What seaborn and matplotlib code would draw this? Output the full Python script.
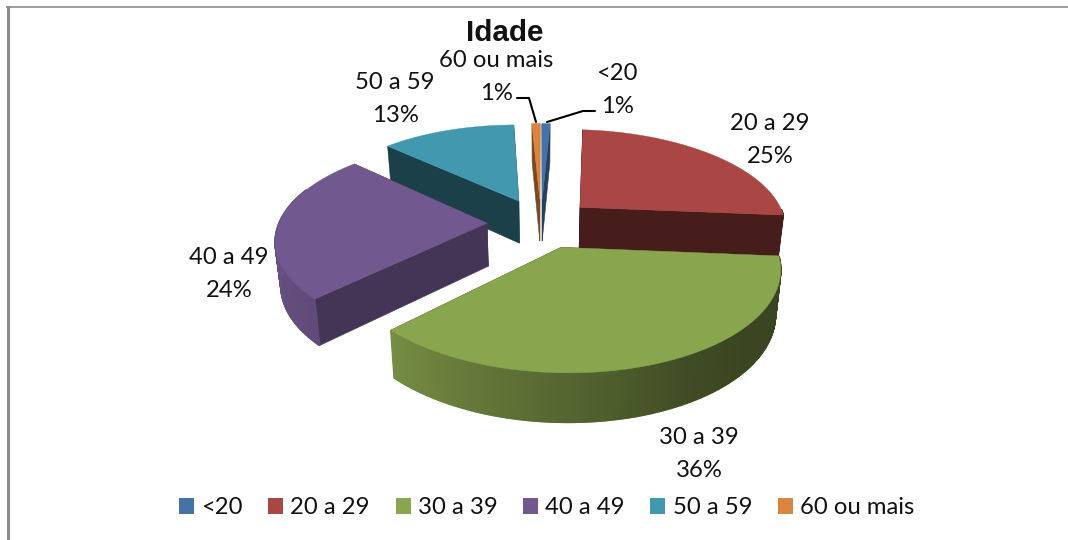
import numpy as np
import matplotlib
matplotlib.use("Agg")
import matplotlib.pyplot as plt
from matplotlib.colors import to_rgb
from matplotlib.patches import Patch
import seaborn as sns

# ── Data ────────────────────────────────────────────────────────
FAIXAS  = ["<20", "20 a 29", "30 a 39", "40 a 49", "50 a 59", "60 ou mais"]
VALORES = [0.75, 25.25, 36.4, 24.3, 12.55, 0.75]
CORES   = ["#4572A7", "#AA4643", "#89A54E", "#71588F", "#4198AF", "#DB843D"]

# ── Layout (pixels of the 1068x540 image) ───────────────────────
LABEL_POS = [(617, 90), (770, 140), (699, 454), (229, 274), (395, 99), (496, 77)]
CX, CY = 541, 223      # centre of the pie
RX, RY = 207, 95.5     # radii of the disc
PERSP  = 0.1665        # back shrinks, front grows
SHEAR  = 2.0           # plane is slightly rolled
ALTURA = 43            # wall height
TAPER  = 0.022         # walls narrow towards the bottom
EXPLODE = 0.26
DRAW_ORDER = [4, 5, 0, 1, 3, 2]   # back to front

# how dark a radial cut wall is, per slice
WALL_DARK = [0.55, 0.42, 0.42, 0.60, 0.42, 0.55]
# brightness of the outer wall along the angle (deg, clockwise from top)
ARC_ANG   = [90, 130, 150, 180, 223, 270, 320]
ARC_LIGHT = [0.42, 0.42, 0.46, 0.62, 0.85, 0.92, 0.92]


def project(X, Y, z=0.0):
    s = 1.0 / (1.0 + PERSP * Y)
    k = 1.0 - TAPER * z / ALTURA
    return CX + RX * X * s * k, CY - RY * Y * s + z * s ** 0.6 + SHEAR * X


def shade(color, f):
    return tuple(c * f for c in to_rgb(color))


def draw_slice(ax, start, end, color, dark):
    mid = np.radians((start + end) / 2)
    ox, oy = EXPLODE * np.sin(mid), EXPLODE * np.cos(mid)

    ang = np.radians(np.linspace(start, end, max(int(end - start) * 2, 4)))
    X = ox + np.sin(ang)
    Y = oy + np.cos(ang)
    tx, ty = project(X, Y)
    bx, by = project(X, Y, ALTURA)
    t0x, t0y = project(ox, oy)
    b0x, b0y = project(ox, oy, ALTURA)

    # cut walls
    for i in (0, -1):
        wall = dict(color=shade(color, dark), lw=0.4, zorder=2)
        ax.fill([t0x, tx[i], bx[i], b0x], [t0y, ty[i], by[i], b0y], **wall)

    # outer wall, thin strips so the shading runs along it, front side only
    for i in range(len(ang) - 1):
        if not 90 <= np.degrees(ang[i]) <= 290:
            continue
        f = np.interp(np.degrees(ang[i]), ARC_ANG, ARC_LIGHT)
        ax.fill([tx[i], tx[i + 1], bx[i + 1], bx[i]],
                [ty[i], ty[i + 1], by[i + 1], by[i]],
                color=shade(color, f), lw=1.2, zorder=2)

    # top face
    ax.fill(np.r_[t0x, tx], np.r_[t0y, ty], color=color, lw=0.3, zorder=2)


sns.set_theme(style="white")
plt.rcParams["font.family"] = ["Lato", "DejaVu Sans"]

fig = plt.figure(figsize=(10.68, 5.4), dpi=100)
ax = fig.add_axes([0, 0, 1, 1])
ax.set_xlim(0, 1068)
ax.set_ylim(540, 0)
ax.axis("off")

# frame of the chart area, cut off by the screenshot
ax.plot([7.5, 7.5], [6, 540], color="#8c8c8c", lw=2.2, solid_capstyle="butt")
ax.plot([6, 1068], [6.5, 6.5], color="#8c8c8c", lw=1.2, solid_capstyle="butt")

palette = sns.color_palette(CORES)
limites = np.cumsum([0] + VALORES) / sum(VALORES) * 360
for i in DRAW_ORDER:
    draw_slice(ax, limites[i], limites[i + 1], palette[i], WALL_DARK[i])

ax.text(505, 33, "Idade", family="Liberation Sans", fontsize=21.3, fontweight="bold",
        color="#111111", ha="center", va="center")

for nome, valor, (x, y) in zip(FAIXAS, VALORES, LABEL_POS):
    ax.text(x, y, f"{nome}\n{valor:.0f}%", fontsize=17.2, color="#111111",
            ha="center", va="center", linespacing=1.72)

# leader lines of the two small slices
ax.plot([517, 529, 536], [98, 98, 122], color="black", lw=1.5, zorder=3)
ax.plot([595, 583, 547], [111, 111, 122], color="black", lw=1.5, zorder=3)

handles = [Patch(facecolor=c, edgecolor="none", label=f) for c, f in zip(palette, FAIXAS)]
ax.legend(handles=handles, ncol=6, loc="center", bbox_to_anchor=(546.5 / 1068, 1 - 508 / 540),
          frameon=False, fontsize=17.2, handlelength=0.63, handleheight=0.63,
          handletextpad=0.3, columnspacing=1.07, labelcolor="#111111")

plt.savefig("out.png", dpi=100)
plt.close()
